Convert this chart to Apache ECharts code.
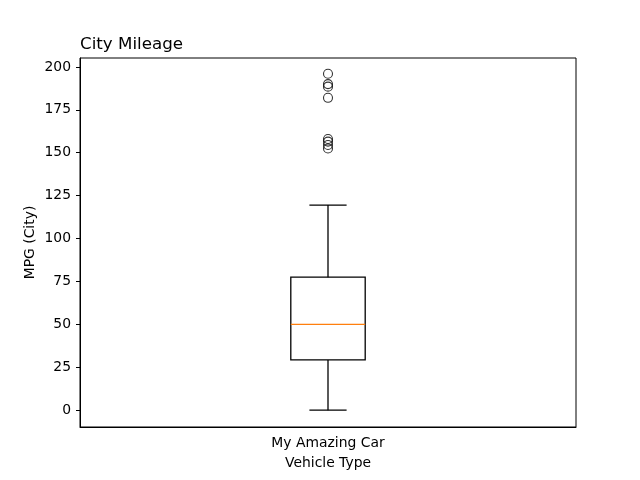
<!DOCTYPE html>
<html>
<head>
<meta charset="utf-8">
<script src="https://cdn.jsdelivr.net/npm/echarts@6/dist/echarts.min.js"></script>
<style>html,body{margin:0;padding:0;background:#fff;}#c{width:640px;height:480px;}</style>
</head>
<body>
<div id="c"></div>
<script>
const categories = ['My Amazing Car'];
const whiskerLow = [0];
const q1 = [29.3];
const median = [50];
const q3 = [77.5];
const whiskerHigh = [119.5];
const outliers = [196, 190, 188.5, 182, 158, 156.5, 154.5, 152.5];
const yTicks = [0, 25, 50, 75, 100, 125, 150, 175, 200];

const font = 'DejaVu Sans';
const boxData = categories.map((c, i) => [i, whiskerLow[i], q1[i], median[i], q3[i], whiskerHigh[i]]);
const outlierData = outliers.map(v => [0, v]);

const chart = echarts.init(document.getElementById('c'), null, {renderer: 'canvas'});
chart.setOption({
  animation: false,
  backgroundColor: '#fff',
  title: {
    text: 'City Mileage', left: 75, top: 31,
    textStyle: {fontFamily: font, fontSize: 16.7, fontWeight: 'normal', color: '#000'}
  },
  grid: {left: 80, right: 64, top: 58, bottom: 53, show: true, borderColor: '#000', borderWidth: 1, backgroundColor: 'transparent'},
  xAxis: {
    type: 'category', data: categories, boundaryGap: true,
    name: 'Vehicle Type', nameLocation: 'middle', nameGap: 29, nameMoveOverlap: false,
    nameTextStyle: {fontFamily: font, fontSize: 13.9, color: '#000'},
    axisLine: {onZero: false, lineStyle: {color: '#000', width: 1}},
    axisTick: {alignWithLabel: true, length: 4, lineStyle: {color: '#000'}},
    axisLabel: {fontFamily: font, fontSize: 13.9, color: '#000', margin: 9},
    splitLine: {show: false}
  },
  yAxis: {
    type: 'value', min: -9.8, max: 205.2,
    name: 'MPG (City)', nameLocation: 'middle', nameGap: 43, nameMoveOverlap: false,
    nameTextStyle: {fontFamily: font, fontSize: 13.9, color: '#000'},
    axisLine: {show: true, onZero: false, lineStyle: {color: '#000', width: 1}},
    axisTick: {show: true, length: 4, lineStyle: {color: '#000'}, customValues: yTicks},
    axisLabel: {fontFamily: font, fontSize: 13.9, color: '#000', margin: 9, customValues: yTicks},
    splitLine: {show: false}
  },
  series: [
    {
      type: 'custom',
      data: boxData,
      renderItem: function (params, api) {
        const x = api.value(0);
        const band = api.size([1, 0])[0];
        const bw = band * 0.15;
        const cw = bw * 0.5;
        const pLo = api.coord([x, api.value(1)]);
        const pQ1 = api.coord([x, api.value(2)]);
        const pMed = api.coord([x, api.value(3)]);
        const pQ3 = api.coord([x, api.value(4)]);
        const pHi = api.coord([x, api.value(5)]);
        const cx = pQ1[0];
        const st = {stroke: '#000', lineWidth: 1.3, fill: null};
        return {
          type: 'group',
          children: [
            {type: 'line', shape: {x1: cx, y1: pQ1[1], x2: cx, y2: pLo[1]}, style: st},
            {type: 'line', shape: {x1: cx, y1: pQ3[1], x2: cx, y2: pHi[1]}, style: st},
            {type: 'line', shape: {x1: cx - cw / 2, y1: pLo[1], x2: cx + cw / 2, y2: pLo[1]}, style: st},
            {type: 'line', shape: {x1: cx - cw / 2, y1: pHi[1], x2: cx + cw / 2, y2: pHi[1]}, style: st},
            {type: 'rect', shape: {x: cx - bw / 2, y: pQ3[1], width: bw, height: pQ1[1] - pQ3[1]}, style: {stroke: '#000', lineWidth: 1.3, fill: 'none'}},
            {type: 'line', shape: {x1: cx - bw / 2, y1: pMed[1], x2: cx + bw / 2, y2: pMed[1]}, style: {stroke: '#ff7f0e', lineWidth: 1.3}}
          ]
        };
      }
    },
    {
      type: 'scatter',
      data: outlierData,
      symbol: 'circle',
      symbolSize: 9,
      itemStyle: {color: 'rgba(0,0,0,0)', borderColor: '#000', borderWidth: 1.1}
    }
  ]
});
</script>
</body>
</html>
